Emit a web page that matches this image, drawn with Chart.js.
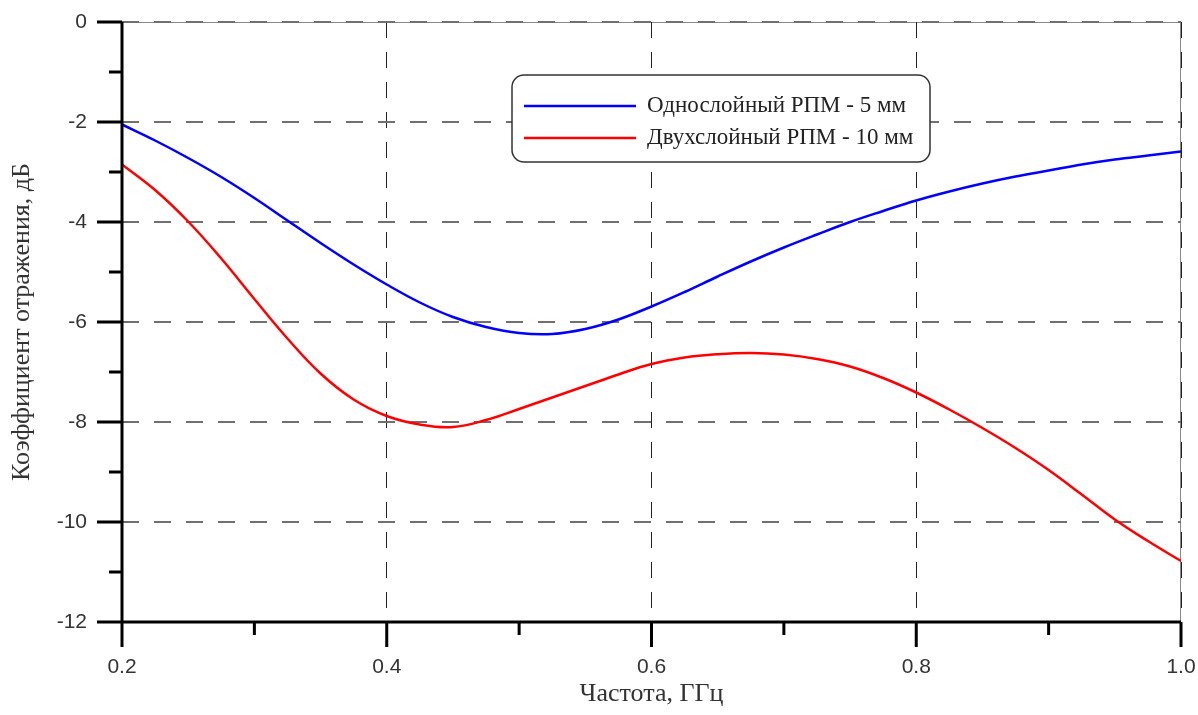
<!DOCTYPE html>
<html>
<head>
<meta charset="utf-8">
<script src="https://cdn.jsdelivr.net/npm/chart.js@4"></script>
<style>
  html, body { margin: 0; padding: 0; background: #fff; }
  #wrap { width: 1198px; height: 715px; }
</style>
</head>
<body>
<div id="wrap"><canvas id="grafico" width="1198" height="715"></canvas></div>
<script>
// частота, ГГц
const frequencias = [
  0.200, 0.225, 0.250, 0.275, 0.300, 0.325, 0.350, 0.375, 0.400, 0.425, 0.450,
  0.475, 0.500, 0.525, 0.550, 0.575, 0.600, 0.625, 0.650, 0.675, 0.700, 0.725,
  0.750, 0.775, 0.800, 0.825, 0.850, 0.875, 0.900, 0.925, 0.950, 0.975, 1.000
];
// Однослойный РПМ - 5 мм, дБ
const odnosloiny = [
  -2.05, -2.37, -2.72, -3.10, -3.52, -3.97, -4.42, -4.85, -5.25, -5.61, -5.90,
  -6.10, -6.22, -6.24, -6.14, -5.95, -5.69, -5.40, -5.09, -4.79, -4.51, -4.25,
  -4.00, -3.78, -3.57, -3.39, -3.23, -3.09, -2.97, -2.85, -2.75, -2.67, -2.59
];
// Двухслойный РПМ - 10 мм, дБ
const dvuhsloiny = [
  -2.85, -3.36, -3.99, -4.73, -5.54, -6.33, -7.03, -7.55, -7.88, -8.05, -8.10,
  -7.96, -7.74, -7.51, -7.28, -7.05, -6.84, -6.71, -6.645, -6.62, -6.65, -6.74,
  -6.89, -7.12, -7.41, -7.75, -8.12, -8.52, -8.96, -9.45, -9.95, -10.38, -10.78
];
const nomesSeries = ['Однослойный РПМ - 5 мм', 'Двухслойный РПМ - 10 мм'];

const ticksXMaiores = [0.2, 0.4, 0.6, 0.8, 1.0];
const ticksXMenores = [0.3, 0.5, 0.7, 0.9];
const ticksYMaiores = [0, -2, -4, -6, -8, -10, -12];
const ticksYMenores = [-1, -3, -5, -7, -9, -11];

const fonteSans = "'Liberation Sans', Arial, sans-serif";
const fonteSerif = "'Liberation Serif', 'Times New Roman', serif";

// tira o espaço extra que o Chart.js reserva para os rótulos das pontas
function semPaddingExtra(scale) {
  scale.paddingLeft = 0;
  scale.paddingRight = 0;
  scale.paddingTop = 0;
  scale.paddingBottom = 0;
}

// moldura fina (topo e direita), atrás das grades
const molduraPlugin = {
  id: 'moldura',
  beforeDraw(chart) {
    const { ctx, chartArea: a } = chart;
    ctx.save();
    ctx.strokeStyle = '#888';
    ctx.lineWidth = 1;
    ctx.beginPath();
    ctx.moveTo(a.left, a.top + 0.5);
    ctx.lineTo(a.right - 0.5, a.top + 0.5);
    ctx.lineTo(a.right - 0.5, a.bottom);
    ctx.stroke();
    ctx.restore();
  }
};

// eixos grossos com marcas maiores e menores
const eixosPlugin = {
  id: 'eixos',
  afterDraw(chart) {
    const { ctx, chartArea: a, scales: { x, y } } = chart;
    ctx.save();
    ctx.strokeStyle = '#000';
    ctx.lineWidth = 3;
    ctx.lineCap = 'butt';
    ctx.beginPath();
    ctx.moveTo(a.left, a.top);
    ctx.lineTo(a.left, a.bottom);
    ctx.moveTo(a.left, a.bottom);
    ctx.lineTo(a.right, a.bottom);

    ticksYMaiores.forEach(v => {
      const py = y.getPixelForValue(v);
      ctx.moveTo(a.left - 25, py);
      ctx.lineTo(a.left, py);
    });
    ticksYMenores.forEach(v => {
      const py = y.getPixelForValue(v);
      ctx.moveTo(a.left - 13, py);
      ctx.lineTo(a.left, py);
    });
    ticksXMaiores.forEach(v => {
      const px = x.getPixelForValue(v);
      ctx.moveTo(px, a.bottom);
      ctx.lineTo(px, a.bottom + 25);
    });
    ticksXMenores.forEach(v => {
      const px = x.getPixelForValue(v);
      ctx.moveTo(px, a.bottom);
      ctx.lineTo(px, a.bottom + 13);
    });
    ctx.stroke();
    ctx.restore();
  }
};

// legenda dentro da área do gráfico
const legendaPlugin = {
  id: 'legenda',
  afterDraw(chart) {
    const { ctx } = chart;
    const caixa = { x: 512, y: 75, w: 418, h: 87 };
    ctx.save();
    ctx.fillStyle = '#fff';
    ctx.strokeStyle = '#333';
    ctx.lineWidth = 1.5;
    ctx.beginPath();
    ctx.roundRect(caixa.x, caixa.y, caixa.w, caixa.h, 12);
    ctx.fill();
    ctx.stroke();

    ctx.font = '23px ' + fonteSerif;
    ctx.textBaseline = 'middle';
    ctx.textAlign = 'left';
    chart.data.datasets.forEach((ds, i) => {
      const ly = caixa.y + 31 + i * 32;
      ctx.strokeStyle = ds.borderColor;
      ctx.lineWidth = 2.5;
      ctx.beginPath();
      ctx.moveTo(caixa.x + 12, ly);
      ctx.lineTo(caixa.x + 124, ly);
      ctx.stroke();
      ctx.fillStyle = '#222';
      ctx.fillText(ds.label, caixa.x + 135, ly);
    });
    ctx.restore();
  }
};

const ctx = document.getElementById('grafico').getContext('2d');
const grafico = new Chart(ctx, {
  type: 'line',
  data: {
    datasets: [
      {
        label: nomesSeries[0],
        data: frequencias.map((f, i) => ({ x: f, y: odnosloiny[i] })),
        borderColor: '#0000ff',
        borderWidth: 2.5,
        pointRadius: 0,
        tension: 0.4,
        fill: false
      },
      {
        label: nomesSeries[1],
        data: frequencias.map((f, i) => ({ x: f, y: dvuhsloiny[i] })),
        borderColor: '#ff0000',
        borderWidth: 2.5,
        pointRadius: 0,
        tension: 0.4,
        fill: false
      }
    ]
  },
  options: {
    responsive: false,
    animation: false,
    devicePixelRatio: 1,
    layout: { padding: { top: 22, right: 17, left: 0, bottom: 0 } },
    plugins: {
      legend: { display: false },
      tooltip: { enabled: false }
    },
    scales: {
      x: {
        type: 'linear',
        min: 0.2,
        max: 1.0,
        afterFit(scale) { scale.height = 93; semPaddingExtra(scale); },
        ticks: {
          stepSize: 0.2,
          padding: 33,
          color: '#333',
          maxRotation: 0,
          autoSkip: false,
          font: { family: fonteSans, size: 21 },
          callback: v => v.toFixed(1)
        },
        grid: { color: '#222', lineWidth: 1, drawTicks: false },
        border: { display: false, dash: [16, 14] },
        title: {
          display: true,
          text: 'Частота, ГГц',
          color: '#333',
          font: { family: fonteSerif, size: 26 },
          padding: { top: 0, bottom: 5 }
        }
      },
      y: {
        type: 'linear',
        min: -12,
        max: 0,
        afterFit(scale) { scale.width = 122; semPaddingExtra(scale); },
        ticks: {
          stepSize: 2,
          padding: 35,
          color: '#333',
          font: { family: fonteSans, size: 21 },
          callback: v => String(v)
        },
        grid: { color: '#707070', lineWidth: 2, drawTicks: false },
        border: { display: false, dash: [17, 15] },
        title: {
          display: true,
          text: 'Коэффициент отражения, дБ',
          color: '#333',
          font: { family: fonteSerif, size: 26 },
          padding: { top: 7, bottom: 0 }
        }
      }
    }
  },
  plugins: [molduraPlugin, eixosPlugin, legendaPlugin]
});
</script>
</body>
</html>
